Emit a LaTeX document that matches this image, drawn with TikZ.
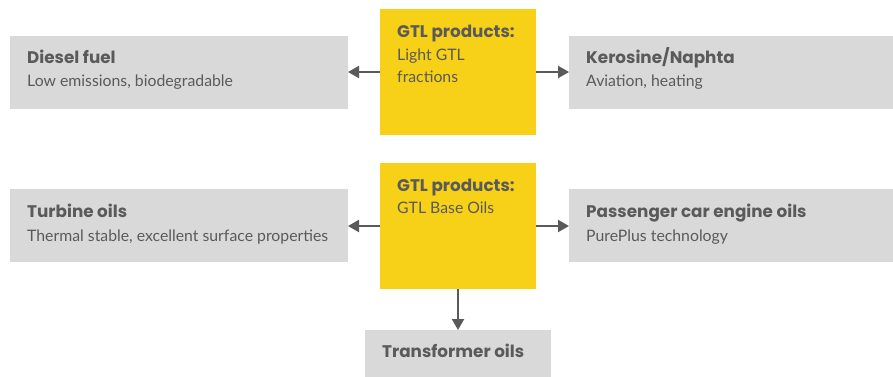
\documentclass[tikz,border=0pt]{standalone}
\usepackage{fontspec}
\setmainfont{Lato}
\newfontfamily\ttlfont{Poppins}
\usetikzlibrary{arrows.meta}
\definecolor{ylw}{HTML}{F6D117}
\definecolor{gbx}{HTML}{D9D9D9}
\definecolor{txt}{HTML}{5A5A5A}
\tikzset{
  box/.style={anchor=north west,inner sep=0pt,outer sep=0pt,fill=gbx},
  ybox/.style={box,fill=ylw},
  ttl/.style={anchor=base west,inner sep=0pt,text=txt,font=\ttlfont\fontsize{16.8}{18}\selectfont\bfseries},
  sub/.style={anchor=base west,inner sep=0pt,text=txt,font=\fontsize{15.8}{18}\selectfont},
  arr/.style={draw=txt,line width=2pt,-{Triangle[length=11pt,width=12pt]}}
}
\begin{document}
\begin{tikzpicture}[x=1pt,y=-1pt]
\useasboundingbox (0,0) rectangle (893,376);
% boxes
\node[ybox,minimum width=156pt,minimum height=126pt] (ytop) at (380,9) {};
\node[box,minimum width=338pt,minimum height=73pt] (diesel) at (10,36) {};
\node[box,minimum width=324pt,minimum height=73pt] (kero) at (569,36) {};
\node[ybox,minimum width=156pt,minimum height=126pt] (ybot) at (380,163) {};
\node[box,minimum width=338pt,minimum height=73pt] (turb) at (10,189) {};
\node[box,minimum width=324pt,minimum height=73pt] (pass) at (569,189) {};
\node[box,minimum width=186pt,minimum height=50pt] (trans) at (365,330) {};
% texts
\node[ttl] (t1) at (397,37) {GTL products:};
\node[sub] (t2) at (397,60) {Light GTL};
\node[sub] (t3) at (397,82) {fractions};
\node[ttl] (d1) at (27,63) {Diesel fuel};
\node[sub] (d2) at (27,86) {Low emissions, biodegradable};
\node[ttl] (k1) at (586,63) {Kerosine/Naphta};
\node[sub] (k2) at (586,86) {Aviation, heating};
\node[ttl] (b1) at (397,191) {GTL products:};
\node[sub] (b2) at (397,213) {GTL Base Oils};
\node[ttl] (u1) at (27,217) {Turbine oils};
\node[sub] (u2) at (27,241) {Thermal stable, excellent surface properties};
\node[ttl] (p1) at (586,217) {Passenger car engine oils};
\node[sub] (p2) at (586,241) {PurePlus technology};
\node[ttl] (r1) at (382,357) {Transformer oils};
% arrows
\draw[arr] (ytop.west) -- (ytop.west -| diesel.east);
\draw[arr] (ytop.east) -- (ytop.east -| kero.west);
\draw[arr] (ybot.west) -- (ybot.west -| turb.east);
\draw[arr] (ybot.east) -- (ybot.east -| pass.west);
\draw[arr] (ybot.south) -- (trans.north);
\end{tikzpicture}
\end{document}
